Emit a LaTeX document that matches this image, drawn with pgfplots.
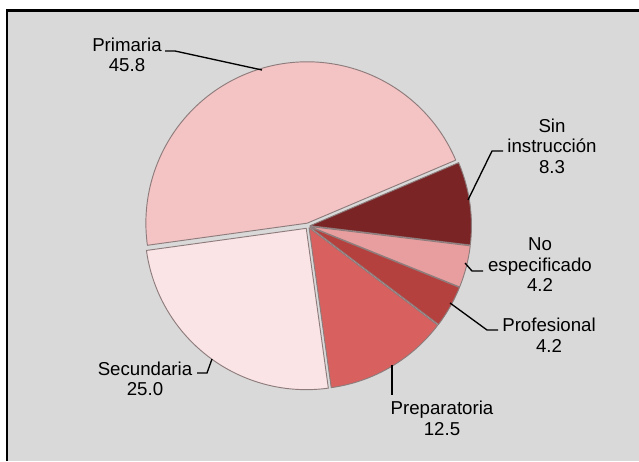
\documentclass[border=0pt]{standalone}
\usepackage{pgfplots}
\pgfplotsset{compat=1.18}
\usepackage{fontspec}
\setmainfont{Liberation Sans}
\usetikzlibrary{calc}
\definecolor{bg}{HTML}{D9D9D9}
\definecolor{cPrim}{HTML}{F4C3C4}
\definecolor{cSec}{HTML}{FBE4E6}
\definecolor{cPrep}{HTML}{D8605E}
\definecolor{cProf}{HTML}{B5413F}
\definecolor{cNoe}{HTML}{E89E9F}
\definecolor{cSin}{HTML}{7A2426}
\definecolor{edge}{HTML}{8E7C7C}
\newcommand\slice[4]{%
  \fill[#3, draw=edge, line width=0.7pt, line join=round]
    ($(axis cs:308,235)+({(#1+#2)/2}:#4)$) -- +(#1:121pt)
    arc[start angle=#1, end angle=#2, radius=121pt] -- cycle;}
\begin{document}
\begin{tikzpicture}
\useasboundingbox (0,0) rectangle (479.25pt,345.75pt);
% values (percent), counterclockwise from 23 degrees
\pgfmathsetmacro\aA{23}
\pgfmathsetmacro\aB{\aA+45.8*3.6}% Primaria
\pgfmathsetmacro\aC{\aB+25.0*3.6}% Secundaria
\pgfmathsetmacro\aD{\aC+12.5*3.6}% Preparatoria
\pgfmathsetmacro\aE{\aD+4.2*3.6}% Profesional
\pgfmathsetmacro\aF{\aE+4.2*3.6}% No especificado
\pgfmathsetmacro\aG{\aF+8.3*3.6}% Sin instruccion
\begin{axis}[at={(0,0)}, anchor=south west, scale only axis,
  width=479.25pt, height=345.75pt,
  xmin=0, xmax=639, ymin=0, ymax=461, hide axis, clip=false]
\fill[bg] (axis cs:7,0) rectangle (axis cs:639,451);
\draw[line width=1.6pt] (axis cs:7,0) -- (axis cs:7,450.5) -- (axis cs:639,450.5);
\slice{\aA}{\aB}{cPrim}{2.2pt}
\slice{\aB}{\aC}{cSec}{2.2pt}
\slice{\aC}{\aD}{cPrep}{1.6pt}
\slice{\aD}{\aE}{cProf}{1.6pt}
\slice{\aE}{\aF}{cNoe}{1.6pt}
\slice{\aF}{\aG}{cSin}{1.6pt}
% leader lines
\draw[line width=1pt] (axis cs:165,410) -- (axis cs:175,410) -- (axis cs:262,391);
\draw[line width=1pt] (axis cs:503,310) -- (axis cs:492,310) -- (axis cs:468,261);
\draw[line width=1pt] (axis cs:465,198) -- (axis cs:472,190) -- (axis cs:483,190);
\draw[line width=1pt] (axis cs:450,158) -- (axis cs:487,131) -- (axis cs:498,131);
\draw[line width=1pt] (axis cs:392,96) -- (axis cs:392,66);
\draw[line width=1pt] (axis cs:197,88) -- (axis cs:207,88) -- (axis cs:212,102);
% labels
\tikzset{lab/.style={align=center, inner sep=0pt, font=\fontsize{14}{15.4}\selectfont}}
\node[lab] at (axis cs:127,406) {Primaria\\45.8};
\node[lab] at (axis cs:552,315) {Sin\\instrucción\\8.3};
\node[lab] at (axis cs:540,196) {No\\especificado\\4.2};
\node[lab] at (axis cs:549,125.5) {Profesional\\4.2};
\node[lab] at (axis cs:442,42.5) {Preparatoria\\12.5};
\node[lab] at (axis cs:145,82) {Secundaria\\25.0};
\end{axis}
\end{tikzpicture}
\end{document}
